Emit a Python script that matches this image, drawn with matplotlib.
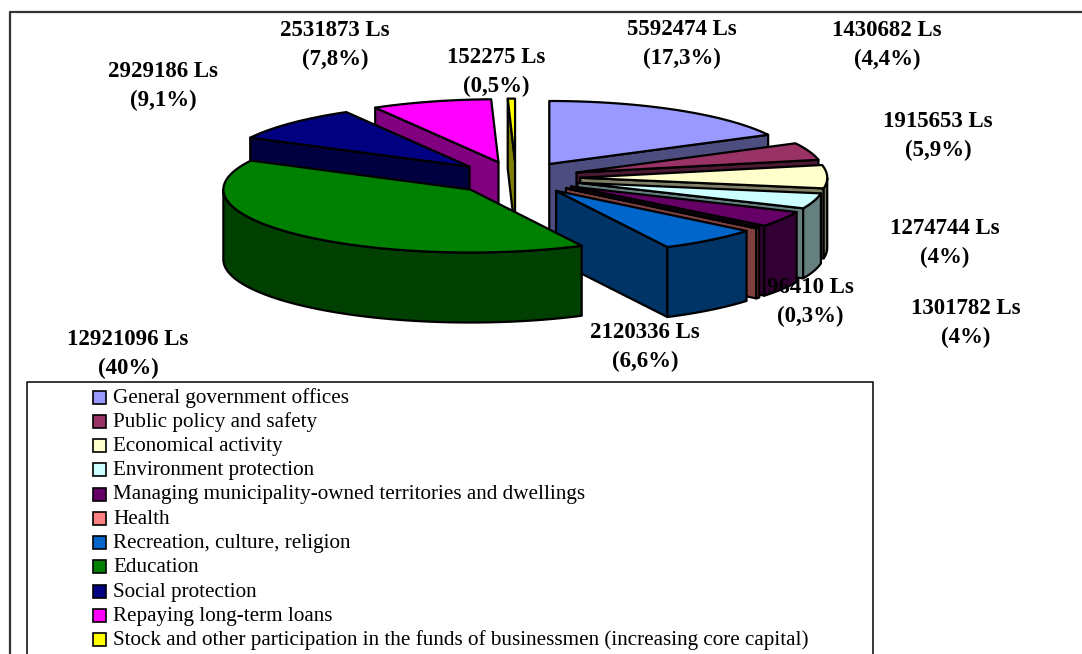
import numpy as np
import matplotlib
matplotlib.use('Agg')
import matplotlib.pyplot as plt
from matplotlib.patches import Polygon, Rectangle

plt.rcParams['font.family'] = ['Liberation Serif', 'DejaVu Serif']

names = ['General government offices', 'Public policy and safety', 'Economical activity',
         'Environment protection', 'Managing municipality-owned territories and dwellings',
         'Health', 'Recreation, culture, religion', 'Education', 'Social protection',
         'Repaying long-term loans',
         'Stock and other participation in the funds of businessmen (increasing core capital)']
values = [5592474, 1430682, 1915653, 1274744, 1301782, 96410, 2120336, 12921096,
          2929186, 2531873, 152275]
pct_labels = ['17,3%', '4,4%', '5,9%', '4%', '4%', '0,3%', '6,6%', '40%', '9,1%', '7,8%', '0,5%']
colors = ['#9999FF', '#993366', '#FFFFCC', '#CCFFFF', '#660066', '#FF8080',
          '#0066CC', '#008000', '#000080', '#FF00FF', '#FFFF00']

# where each value label sits, in picture pixels
label_xy = [(682, 44), (887, 45), (938, 136), (945, 243), (966, 323), (810, 302),
            (645, 347), (128, 354), (163, 86), (335, 45), (496, 72)]

# pie geometry in picture pixels
cx, cy = 516, 178
a, b = 247, 63
depth = 70
explode = 0.26


def rim(x0, y0, t):
    return np.column_stack([x0 + a * np.sin(t), y0 - b * np.cos(t)])


def shade(c):
    return tuple(0.5 * v for v in matplotlib.colors.to_rgb(c))


fig = plt.figure(figsize=(10.82, 6.54), dpi=100)
ax = fig.add_axes([0, 0, 1, 1])
ax.set_xlim(0, 1082)
ax.set_ylim(654, 0)
ax.axis('off')

# outer frame
ax.plot([10, 10, 1082], [654, 12, 12], color='#333333', lw=1.6)

frac = np.array(values, dtype=float) / sum(values)
ends = np.cumsum(frac) * 2 * np.pi
starts = ends - frac * 2 * np.pi


def draw_slice(i, zorder):
    t0, t1 = starts[i], ends[i]
    mid = 0.5 * (t0 + t1)
    x0 = cx + explode * a * np.sin(mid)
    y0 = cy - explode * b * np.cos(mid)
    col = colors[i]
    dark = shade(col)
    style = dict(ec='black', lw=1.6, joinstyle='round', zorder=zorder)

    # flat cut faces turned to the viewer
    for t, show in ((t0, np.sin(t0) < 0), (t1, np.sin(t1) > 0)):
        if show:
            tip = rim(x0, y0, np.array([t]))[0]
            ax.add_patch(Polygon([(x0, y0), tip, tip + (0, depth), (x0, y0 + depth)],
                                 fc=dark, **style))
    # outer wall, only the front half of the rim shows
    lo, hi = max(t0, np.pi / 2), min(t1, 3 * np.pi / 2)
    if hi > lo:
        arc = rim(x0, y0, np.linspace(lo, hi, 60))
        ax.add_patch(Polygon(np.vstack([arc, arc[::-1] + (0, depth)]), fc=dark, **style))
    # top
    arc = rim(x0, y0, np.linspace(t0, t1, 80))
    ax.add_patch(Polygon(np.vstack([[(x0, y0)], arc]), fc=col, **style))


# back to front
for z, i in enumerate([10, 9, 8, 0, 1, 2, 3, 4, 5, 6, 7]):
    draw_slice(i, 3 + z)

for v, p, (x, y) in zip(values, pct_labels, label_xy):
    ax.text(x, y, '%d Ls\n(%s)' % (v, p), ha='center', va='center', fontsize=16.5,
            fontweight='bold', linespacing=1.5, zorder=20)

# legend box runs off the bottom of the page
ax.plot([27, 27, 873, 873], [654, 382, 382, 654], color='black', lw=1.1)
for i, name in enumerate(names):
    y = 396.5 + i * 24.25
    ax.add_patch(Rectangle((93, y - 6), 13, 13, fc=colors[i], ec='black', lw=1.2))
    ax.text(113, y + 1.5, name, ha='left', va='center', fontsize=15.2)

plt.savefig('out.png', dpi=100)
